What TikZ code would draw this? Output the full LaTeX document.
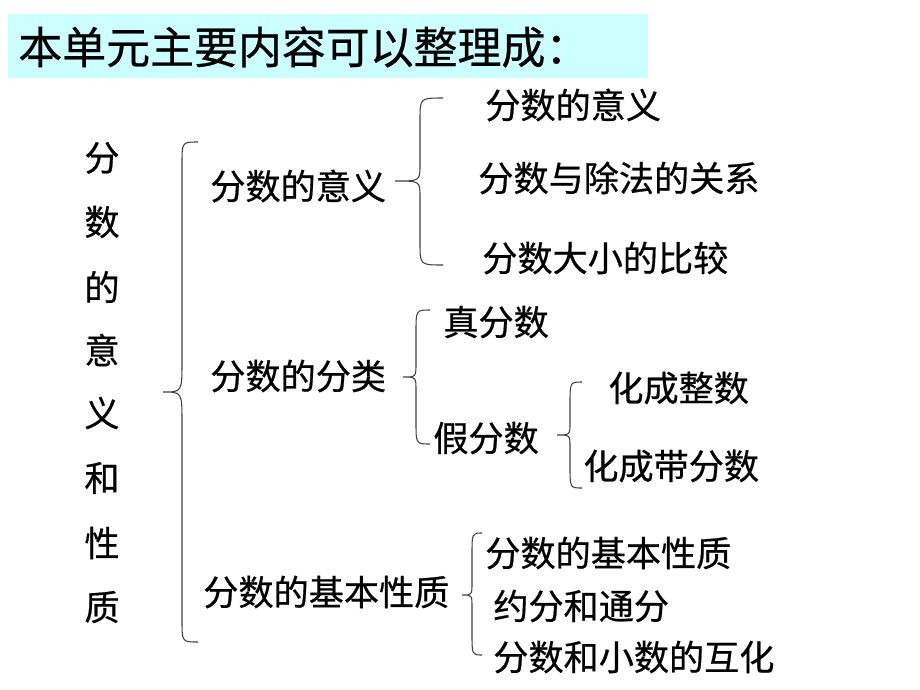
\documentclass[tikz,border=0pt]{standalone}
\usepackage{fontspec}
\newfontfamily\cjk[FakeBold=0.6]{Noto Sans CJK SC}
\definecolor{titlebg}{HTML}{CCFFFF}
\newcommand{\kuohao}[7]{% top x, top y, line x, tip x, tip y, bottom y, tip radius
  \draw [bracket] (#1,#2) .. controls (#3,#2) .. (#3,#2+22) -- (#3,#5-#7)
    .. controls (#3,#5) .. (#4,#5) .. controls (#3,#5) .. (#3,#5+#7)
    -- (#3,#6-22) .. controls (#3,#6) .. (#1,#6);}
\begin{document}
\begin{tikzpicture}[x=0.02cm,y=-0.02cm]
	\tikzset{every node/.style={inner sep=0pt,font=\cjk\fontsize{20}{24}\selectfont},
		bracket/.style={draw=black!75,line width=0.6pt},
		item/.style={anchor=west}}
	\useasboundingbox (0,0) rectangle (920,690);
	% title
	\fill [titlebg] (8,14) rectangle (648,78);
	\node [item,font=\cjk\fontsize{25}{30}\selectfont] (title) at (18,47) {本单元主要内容可以整理成：};
	% vertical heading
	\foreach \c/\y [count=\i] in {分/158,数/222,的/287,意/350,义/413,和/478,性/543,质/607}
		\node (v\i) at (102,\y) {\c};
	\kuohao{198}{142}{182}{163}{392}{642}{30}
	% meaning
	\node [item] (yiyi) at (210,186) {分数的意义};
	\kuohao{443}{98}{420}{395}{181}{265}{16}
	\node [item] (yiyiA) at (485,105) {分数的意义};
	\node [item] (yiyiB) at (478,178) {分数与除法的关系};
	\node [item] (yiyiC) at (482,258) {分数大小的比较};
	% classes
	\node [item] (fenlei) at (210,376) {分数的分类};
	\kuohao{430}{310}{416}{403}{377}{444}{14}
	\node [item] (zhen) at (443,322) {真分数};
	\node [item] (jia) at (433,438) {假分数};
	\kuohao{582}{382}{570}{557}{435}{488}{12}
	\node [item] (zheng) at (608,388) {化成整数};
	\node [item] (dai) at (583,466) {化成带分数};
	% basic property
	\node [item] (xingzhi) at (203,592) {分数的基本性质};
	\kuohao{482}{533}{472}{462}{595}{655}{12}
	\node [item] (xzA) at (485,553) {分数的基本性质};
	\node [item] (xzB) at (493,606) {约分和通分};
	\node [item] (xzC) at (493,657) {分数和小数的互化};
\end{tikzpicture}
\end{document}
